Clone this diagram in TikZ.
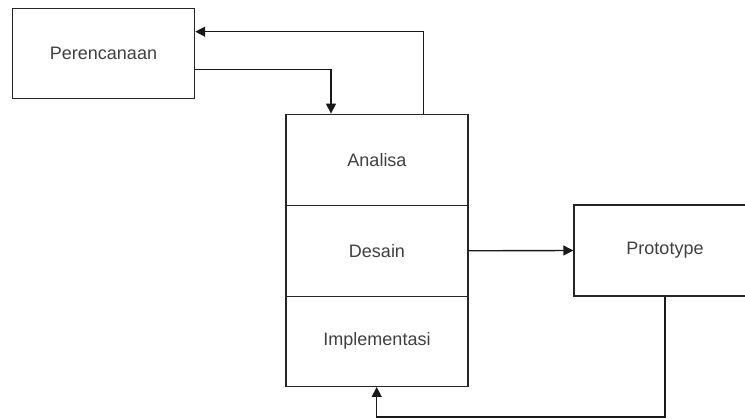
\documentclass[tikz,border=0pt]{standalone}
\usepackage{fontspec}
\setmainfont{Liberation Sans}
\usetikzlibrary{arrows.meta}
\begin{document}
\begin{tikzpicture}[x=1pt,y=-1pt,
  box/.style={draw=black!85, line width=1.4pt, fill=white, inner sep=0pt, text=black!75, font=\fontsize{18}{21}\selectfont},
  conn/.style={draw=black!90, line width=1.4pt, -{Triangle[length=10pt,width=10pt]}}]
\useasboundingbox (0,0) rectangle (745,419);
\clip (0,0) rectangle (745,419);
\fill[white] (0,0) rectangle (745,419);
\node[box, minimum width=182pt, minimum height=90pt] (per) at (103.5,53.5) {Perencanaan};
\node[box, minimum width=182pt, minimum height=91pt] (ana) at (377,159.8) {Analisa};
\node[box, minimum width=182pt, minimum height=91pt] (des) at (377,250.8) {Desain};
\node[box, minimum width=182pt, minimum height=90pt] (imp) at (377,341.3) {Implementasi};
\node[box, minimum width=182pt, minimum height=91pt] (pro) at (665,250.5) {Prototype};
\coordinate (c1) at (331,69.3);
\coordinate (c2) at (423.5,31.7);
\coordinate (c3) at (665,417);
\coordinate (c4) at (376.7,417);
\draw[conn] (per.east |- c1) -- (c1) -- (c1 |- ana.north);
\draw[conn] (c2 |- ana.north) -- (c2) -- (c2 -| per.east);
\draw[conn] (des.east) -- (pro.west);
\draw[conn] (pro.south) -- (c3) -- (c4) -- (c4 |- imp.south);
\end{tikzpicture}
\end{document}
